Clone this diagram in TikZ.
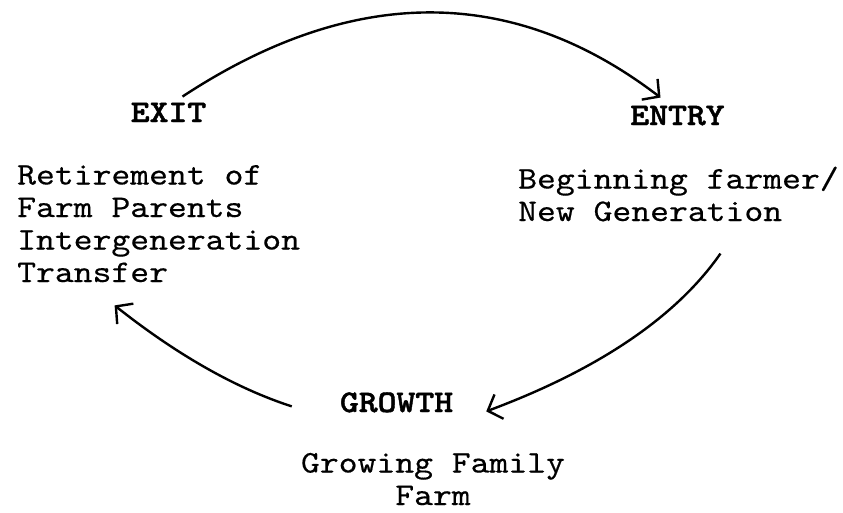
\documentclass[tikz,border=0pt]{standalone}
\usepackage{fontspec}
\setmainfont{lmmono10-regular.otf}[FakeStretch=1.14, FakeBold=0.4,
  BoldFont=lmmonolt10-bold.otf, BoldFeatures={FakeBold=1.4}]
\usetikzlibrary{arrows.meta}
\newcommand{\cyclesize}{\fontsize{31.5}{32.5}\selectfont}

\begin{document}
\begin{tikzpicture}[
  x=1pt, y=-1pt,
  head/.style={font=\cyclesize\bfseries, inner sep=0pt, anchor=base},
  stage/.style={font=\cyclesize, inner sep=0pt, anchor=base west, align=left},
  arrow/.style={-{Straight Barb[length=12pt,width=26pt]}, line width=2.4pt}
]
\useasboundingbox (0,0) rectangle (843,512);

\node[head] (exit) at (168.5,122) {EXIT};
\node[head] (entry) at (677.5,125) {ENTRY};
\node[head] (growth) at (396.5,412) {GROWTH};

% base anchor = last line
\node[stage] (retire) at (17,282) {Retirement of\\Farm Parents\\Intergeneration\\Transfer};
\node[stage] (newgen) at (518,221) {Beginning farmer/\\New Generation};
\node[stage, align=center, anchor=base] (farm) at (433,505) {Growing Family\\Farm};

\draw[arrow] ([shift={(14,-6)}]exit.north) .. controls (352,-15) and (512,-16) .. ([shift={(-17,-8)}]entry.north);
\draw[arrow] ([shift={(42,32)}]newgen.south) .. controls (677,316) and (600,369) .. ([shift={(33,9)}]growth.east);
\draw[arrow] ([shift={(-48,4)}]growth.west) .. controls (235,388) and (176,354) .. ([shift={(-44,23)}]retire.south);
\end{tikzpicture}
\end{document}
